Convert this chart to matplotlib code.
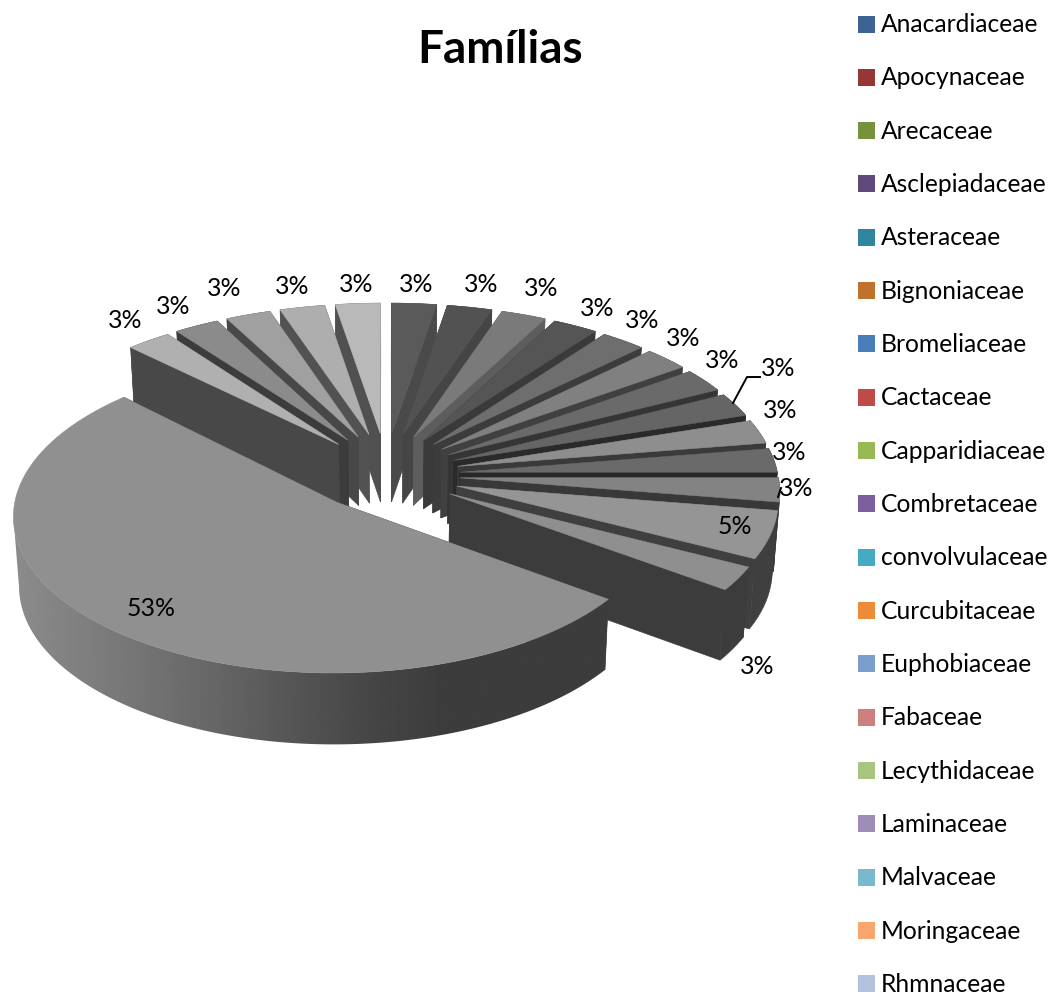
# -*- coding: utf-8 -*-
"""
Familias - exploded 3D pie
"""
import numpy as np
import matplotlib
matplotlib.use('Agg')
import matplotlib.pyplot as plt
from matplotlib.patches import Polygon, Rectangle

families = ['Anacardiaceae', 'Apocynaceae', 'Arecaceae', 'Asclepiadaceae', 'Asteraceae',
            'Bignoniaceae', 'Bromeliaceae', 'Cactaceae', 'Capparidiaceae', 'Combretaceae',
            'convolvulaceae', 'Curcubitaceae', 'Euphobiaceae', 'Fabaceae', 'Lecythidaceae',
            'Laminaceae', 'Malvaceae', 'Moringaceae', 'Rhmnaceae']
counts = [1, 1, 1, 1, 1, 1, 1, 1, 1, 1, 1, 2, 1, 21, 1, 1, 1, 1, 1]
legend_colors = ['#3b6494', '#953735', '#76923c', '#604a7b', '#31859c', '#c0722c', '#4a7ebb',
                 '#be4b48', '#98b954', '#7d5fa0', '#46aac5', '#ec8b3a', '#7c9ecb', '#cd7f7e',
                 '#a9c47f', '#9d8bb8', '#7ab9cc', '#f9a66e', '#b3c2de']
top_grey = [0x5a, 0x52, 0x7a, 0x55, 0x6e, 0x80, 0x6a, 0x65, 0x8e, 0x6a, 0x83, 0x95, 0x8f,
            0x90, 0xb0, 0x8b, 0xa0, 0xae, 0xb9]
wall_grey = [0x4a, 0x45, 0x5d, 0x3a, 0x3c, 0x40, 0x35, 0x2a, 0x3a, 0x28, 0x38, 0x3f, 0x3c,
             0x3c, 0x48, 0x3c, 0x48, 0x52, 0x50]
label_x = [416, 481, 541, 597, 642, 683, 722, 778, 780, 789, 796, 735, 757, 151,
           125, 173, 224, 292, 356]
label_y = [284, 285, 289, 308, 321, 339, 361, 369, 411, 452, 489, 527, 666, 608,
           321, 307, 289, 286, 285]

cx, cy = 386., 475.
a, b = 318., 152.8
k = 0.0776
explode = 0.233
depth = 69.


def project(u, v, bottom=False):
    s = 1. / (1 + k * v)
    x = a * u * s
    y = b * v * s
    if bottom:
        return cx + x * 0.985, cy - y + depth * (1 - 0.03 * v)
    return cx + x, cy - y


def grey(g):
    return (g / 255., g / 255., g / 255.)


def poly(ax, xs, ys, color, z=1):
    ax.add_patch(Polygon(np.column_stack((xs, ys)), closed=True, facecolor=color,
                         edgecolor=color, linewidth=0.4, zorder=z))


def draw_slice(ax, t0, t1, top, wall, shaded):
    mid = (t0 + t1) / 2
    # far tips sit a little higher than plain explosion gives
    lift = 0.045 * max(np.cos(mid), 0) ** 2
    u0 = explode * np.sin(mid)
    v0 = explode * np.cos(mid) + lift
    t = np.linspace(t0, t1, max(int((t1 - t0) * 120), 12))
    u = u0 + np.sin(t)
    v = v0 + (1 - lift) * np.cos(t)

    # radial walls, the far one first
    edges = sorted([t0, t1], key=lambda e: -np.cos(e))
    for e in edges:
        ue = np.array([u0, u0 + np.sin(e)])
        ve = np.array([v0, v0 + (1 - lift) * np.cos(e)])
        xt, yt = project(ue, ve)
        xb, yb = project(ue, ve, bottom=True)
        poly(ax, [xt[0], xt[1], xb[1], xb[0]], [yt[0], yt[1], yb[1], yb[0]], grey(wall))

    # outer wall
    xt, yt = project(u, v)
    xb, yb = project(u, v, bottom=True)
    if shaded:
        # gradient from light (left) to dark (right), clipped to the wall outline
        xs = np.linspace(0, 620, 311)
        shade = np.interp(xs, [12, 100, 200, 300, 370, 450], [0x8c, 0x7c, 0x69, 0x54, 0x46, 0x3c])
        im = ax.imshow(shade[np.newaxis, :], cmap='gray', vmin=0, vmax=255, aspect='auto',
                       extent=[0, 620, 800, 400], zorder=5, interpolation='bilinear')
        # arcs stop at their leftmost point, the back part is hidden anyway
        i = np.argmin(xt) + 1
        j = np.argmin(xb) + 1
        clip = Polygon(np.column_stack((np.r_[xt[:i], xb[:j][::-1]], np.r_[yt[:i], yb[:j][::-1]])),
                       closed=True, transform=ax.transData)
        im.set_clip_path(clip)
        ax.set_xlim(0, 1058)
        ax.set_ylim(994, 0)
        z = 6
    else:
        poly(ax, np.r_[xt, xb[::-1]], np.r_[yt, yb[::-1]], grey(wall))
        z = 1

    # top face
    ax0, ay0 = project(u0, v0)
    poly(ax, np.r_[ax0, xt], np.r_[ay0, yt], grey(top), z)


def main():
    plt.rcParams['font.family'] = ['Lato', 'DejaVu Sans']
    fig = plt.figure(figsize=(10.58, 9.94), dpi=100)
    ax = fig.add_axes([0, 0, 1, 1])
    ax.set_xlim(0, 1058)
    ax.set_ylim(994, 0)
    ax.axis('off')

    vals = np.array(counts, dtype=float)
    total = vals.sum()
    ends = np.cumsum(vals) / total * 2 * np.pi
    starts = np.r_[0, ends[:-1]]
    mids = (starts + ends) / 2

    order = np.argsort(-np.cos(mids))
    for i in order:
        draw_slice(ax, starts[i], ends[i], top_grey[i], wall_grey[i], counts[i] == max(counts))

    # percent labels, 2.5 goes up to 3
    for i in range(len(vals)):
        pct = int(vals[i] / total * 100 + 0.5)
        ax.text(label_x[i], label_y[i], '%d%%' % pct, fontsize=17.9, color='black',
                ha='center', va='center', zorder=10)

    # leader lines
    ax.plot([733, 747, 760], [403, 377, 377], color='black', lw=1.4, zorder=9)
    ax.plot([778, 781], [497, 488], color='black', lw=1.4, zorder=9)

    ax.text(500, 50, 'Famílias', fontsize=33, fontweight='bold', ha='center', va='center')

    for i, name in enumerate(families):
        yc = 24 + i * 53.33
        ax.add_patch(Rectangle((858, yc - 8.5), 17, 17, facecolor=legend_colors[i], edgecolor='none'))
        ax.text(881, yc + 8, name, fontsize=17.7, ha='left', va='baseline', color='black')

    fig.savefig('out.png', dpi=100)


if __name__ == "__main__":
    main()
